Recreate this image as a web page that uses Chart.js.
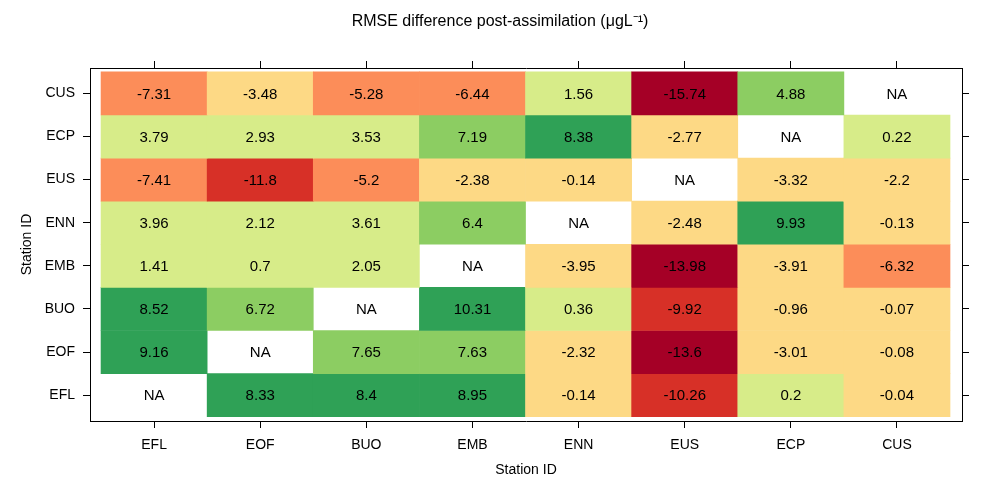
<!DOCTYPE html>
<html><head><meta charset="utf-8">
<script src="https://cdn.jsdelivr.net/npm/chart.js@4.4.1/dist/chart.umd.min.js"></script>
<style>html,body{margin:0;padding:0;background:#fff}#wrap{width:1000px;height:500px}</style>
</head><body><div id="wrap"><canvas id="c" width="1000" height="500"></canvas></div>
<script>
// Stations (columns left->right, rows bottom->top)
const stations = ['EFL','EOF','BUO','EMB','ENN','EUS','ECP','CUS'];
// Row values, columns in order EFL, EOF, BUO, EMB, ENN, EUS, ECP, CUS (null = NA)
const rowEFL = [null, 8.33, 8.4, 8.95, -0.14, -10.26, 0.2, -0.04];
const rowEOF = [9.16, null, 7.65, 7.63, -2.32, -13.6, -3.01, -0.08];
const rowBUO = [8.52, 6.72, null, 10.31, 0.36, -9.92, -0.96, -0.07];
const rowEMB = [1.41, 0.7, 2.05, null, -3.95, -13.98, -3.91, -6.32];
const rowENN = [3.96, 2.12, 3.61, 6.4, null, -2.48, 9.93, -0.13];
const rowEUS = [-7.41, -11.8, -5.2, -2.38, -0.14, null, -3.32, -2.2];
const rowECP = [3.79, 2.93, 3.53, 7.19, 8.38, -2.77, null, 0.22];
const rowCUS = [-7.31, -3.48, -5.28, -6.44, 1.56, -15.74, 4.88, null];
const rows = [rowEFL, rowEOF, rowBUO, rowEMB, rowENN, rowEUS, rowECP, rowCUS];
const titleText = 'RMSE difference post-assimilation (\u03BCgL\u207B\u00B9)';
const axisTitle = 'Station ID';

// colour classes
const breaks = [-16, -12, -8, -4, 0, 4, 8, 12];
const palette = ['#a50026', '#d73027', '#fc8d59', '#fdd985', '#d7ec89', '#8ccd62', '#2fa156'];
function colorFor(v) {
  for (let k = 0; k < palette.length; k++) if (v < breaks[k + 1]) return palette[k];
  return palette[palette.length - 1];
}

const cells = [];
const naCells = [];
rows.forEach((row, i) => row.forEach((v, j) => {
  if (v === null) naCells.push({x: j + 1, y: i + 1});
  else cells.push({x: j + 1, y: [i + 0.5, i + 1.5], v: v});
}));

const FONT = "'Liberation Sans', Arial, sans-serif";
const tickList = () => stations.map((s, i) => ({value: i + 1}));

const labelPlugin = {
  id: 'cellLabels',
  afterDatasetsDraw(chart) {
    const ctx = chart.ctx;
    const meta = chart.getDatasetMeta(0);
    ctx.save();
    ctx.font = '15px ' + FONT;
    ctx.fillStyle = '#000';
    ctx.textAlign = 'center';
    ctx.textBaseline = 'middle';
    meta.data.forEach((el, i) => {
      const p = el.getCenterPoint();
      ctx.fillText(String(cells[i].v), p.x, p.y + 1);
    });
    const xs = chart.scales.x, ys = chart.scales.y;
    naCells.forEach(c => ctx.fillText('NA', xs.getPixelForValue(c.x), ys.getPixelForValue(c.y) + 1));
    ctx.restore();
  }
};

function axisCommon(extra) {
  return Object.assign({
    type: 'linear',
    offset: false,
    afterBuildTicks: s => { s.ticks = tickList(); },
    grid: {drawOnChartArea: false, drawTicks: true, tickLength: 7, color: '#000', lineWidth: 1, offset: false},
    border: {display: true, color: '#000', width: 1}
  }, extra);
}

new Chart(document.getElementById('c'), {
  type: 'bar',
  data: {
    datasets: [{
      data: cells,
      xAxisID: 'x', yAxisID: 'y',
      grouped: false,
      barPercentage: 1,
      categoryPercentage: 1,
      borderWidth: 0,
      backgroundColor: ctx => colorFor(ctx.raw ? ctx.raw.v : 0)
    }]
  },
  options: {
    responsive: false,
    animation: false,
    devicePixelRatio: 1,
    layout: {padding: 0},
    plugins: {
      legend: {display: false},
      tooltip: {enabled: false},
      title: {
        display: true, text: titleText, color: '#000',
        font: {family: FONT, size: 16, weight: 'normal'},
        padding: {top: 12, bottom: 9}
      }
    },
    scales: {
      x: axisCommon({
        position: 'bottom', min: 0.396, max: 8.613,
        ticks: {color: '#000', font: {family: FONT, size: 14}, padding: 9, maxRotation: 0, autoSkip: false,
          callback: v => stations[Math.round(v) - 1]},
        title: {display: true, text: axisTitle, color: '#000', font: {family: FONT, size: 14}, padding: {top: 0, bottom: 21.6}},
        afterFit: s => { s.height = 79; }
      }),
      y: axisCommon({
        position: 'left', min: 0.4, max: 8.59,
        ticks: {color: '#000', font: {family: FONT, size: 14}, padding: 8, autoSkip: false,
          callback: v => stations[Math.round(v) - 1]},
        title: {display: true, text: axisTitle, color: '#000', font: {family: FONT, size: 14}, padding: {top: 18.6, bottom: 0}},
        afterFit: s => { s.width = 90; }
      }),
      x2: axisCommon({
        position: 'top', min: 0.396, max: 8.613,
        ticks: {display: false},
        afterFit: s => { s.height = 27.8; }
      }),
      y2: axisCommon({
        position: 'right', min: 0.4, max: 8.59,
        ticks: {display: false},
        afterFit: s => { s.width = 38; }
      })
    }
  },
  plugins: [labelPlugin]
});
</script>
</body></html>
